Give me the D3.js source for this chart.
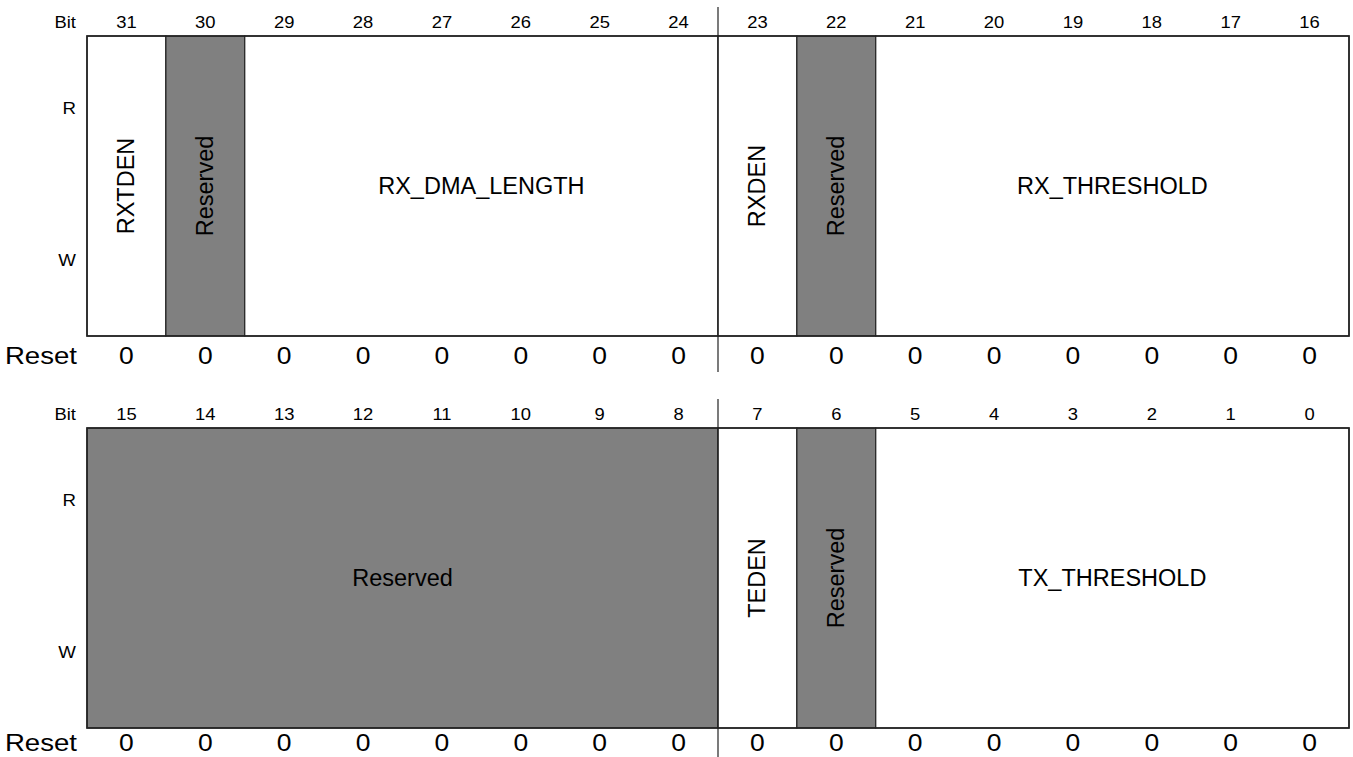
<!DOCTYPE html>
<html><head><meta charset="utf-8">
<script src="https://cdn.jsdelivr.net/npm/d3@7"></script>
<style>
html,body{margin:0;padding:0;background:#fff;}
text{font-family:"Liberation Sans",Arial,Helvetica,sans-serif;fill:#000;}
</style></head>
<body><svg id="c" width="1353" height="757"></svg>
<script>
// ---- data ----
const row1Bits = [31,30,29,28,27,26,25,24,23,22,21,20,19,18,17,16];
const row2Bits = [15,14,13,12,11,10,9,8,7,6,5,4,3,2,1,0];
const row1Reset = [0,0,0,0,0,0,0,0,0,0,0,0,0,0,0,0];
const row2Reset = [0,0,0,0,0,0,0,0,0,0,0,0,0,0,0,0];
const row1FieldNames = ["RXTDEN","Reserved","RX_DMA_LENGTH","RXDEN","Reserved","RX_THRESHOLD"];
const row1FieldMsb   = [31,30,29,23,22,21];
const row1FieldLsb   = [31,30,24,23,22,16];
const row1FieldRes   = [false,true,false,false,true,false];
const row2FieldNames = ["Reserved","TEDEN","Reserved","TX_THRESHOLD"];
const row2FieldMsb   = [15,7,6,5];
const row2FieldLsb   = [8,7,6,0];
const row2FieldRes   = [true,false,true,false];
const accessLabels = ["R","W"];

const svg = d3.select("#c");
const X0 = 87, X1 = 1349;

function sx(x, s) { return `translate(${x},0) scale(${s},1) translate(${-x},0)`; }

function drawRow(bits, resets, names, msb, lsb, res, top, resetY) {
  const H = 300;
  const x = d3.scaleBand().domain(bits).range([X0, X1]).padding(0);
  const bw = x.bandwidth();
  const g = svg.append("g");
  // Bit header
  g.append("text").attr("x", 76).attr("y", top - 8).attr("text-anchor","end")
    .attr("font-size", 16).attr("transform", sx(76, 1.15)).text("Bit");
  g.selectAll("text.bit").data(bits).enter().append("text").attr("class","bit")
    .attr("x", d => x(d) + bw/2).attr("y", top - 8).attr("text-anchor","middle")
    .attr("font-size", 16)
    .attr("transform", d => sx(x(d) + bw/2, 1.15))
    .text(d => d);
  // fields
  names.forEach((n, i) => {
    const x0 = x(msb[i]), x1 = x(lsb[i]) + bw;
    g.append("rect").attr("x", x0).attr("y", top).attr("width", x1 - x0).attr("height", H)
      .attr("fill", res[i] ? "#808080" : "#fff").attr("stroke", "#222").attr("stroke-width", 1.2);
    const cx = (x0 + x1)/2, cy = top + H/2;
    const single = msb[i] === lsb[i];
    g.append("text").attr("x", cx).attr("y", cy).attr("text-anchor","middle")
      .attr("dominant-baseline","central").attr("font-size", 23.5)
      .attr("transform", single ? `rotate(-90,${cx},${cy})` : null)
      .text(n);
  });
  // outer border
  g.append("rect").attr("x", X0).attr("y", top).attr("width", X1 - X0).attr("height", H)
    .attr("fill","none").attr("stroke","#222").attr("stroke-width",1.6);
  // access labels
  [72, 224].forEach((dy, i) => {
    g.append("text").attr("x", 76).attr("y", top + dy + 6).attr("text-anchor","end")
      .attr("font-size", 17).attr("transform", sx(76, 1.1))
      .text(accessLabels[i]);
  });
  // reset
  g.append("text").attr("x", 77).attr("y", resetY).attr("text-anchor","end")
    .attr("font-size", 23).attr("transform", sx(77, 1.2)).text("Reset");
  g.selectAll("text.rst").data(bits).enter().append("text").attr("class","rst")
    .attr("x", d => x(d) + bw/2).attr("y", resetY).attr("text-anchor","middle")
    .attr("font-size", 23).attr("transform", d => sx(x(d) + bw/2, 1.15))
    .text((d, i) => resets[i]);
  // middle divider
  const mx = x(bits[7]) + bw;
  g.append("line").attr("x1", mx).attr("x2", mx).attr("y1", top - 29).attr("y2", top + H + 36)
    .attr("stroke","#222").attr("stroke-width",1.2);
}
drawRow(row1Bits, row1Reset, row1FieldNames, row1FieldMsb, row1FieldLsb, row1FieldRes, 36, 364);
drawRow(row2Bits, row2Reset, row2FieldNames, row2FieldMsb, row2FieldLsb, row2FieldRes, 428, 751);
</script></body></html>
